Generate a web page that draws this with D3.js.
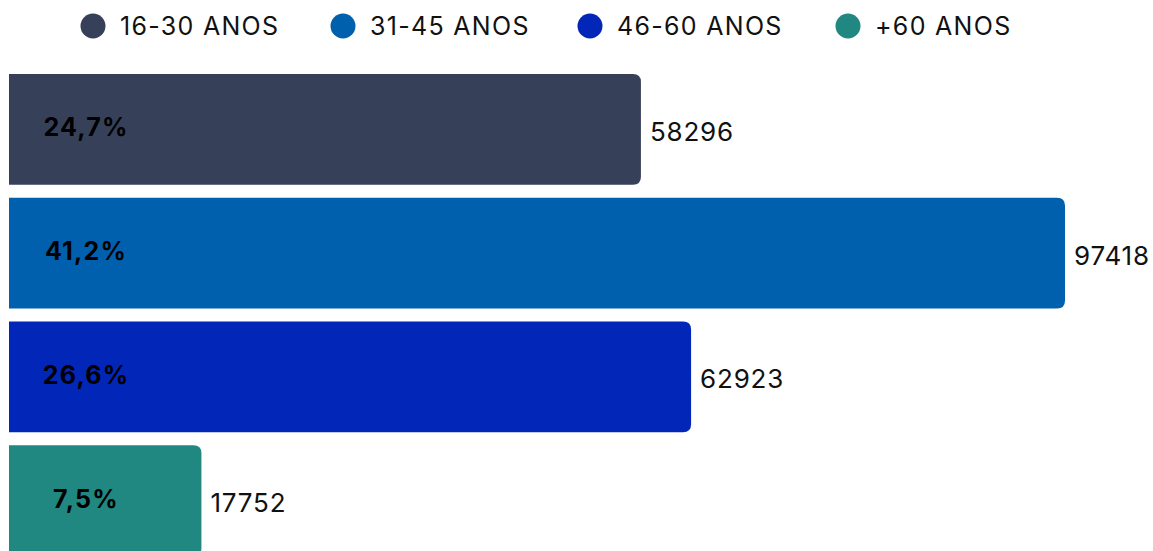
<!DOCTYPE html>
<html lang="pt">
<head>
	<meta charset="UTF-8">
	<script src="https://d3js.org/d3.v7.min.js"></script>
	<title>Faixa etaria</title>
	<style type="text/css">
		body{ margin: 0; background: #fff; }
		text{ font-family: Inter, "DejaVu Sans", sans-serif; }
	</style>
</head>
<body>
	<svg width="1153" height="551"></svg>
<script>
var categories = ["16-30 ANOS", "31-45 ANOS", "46-60 ANOS", "+60 ANOS"];
var values = [58296, 97418, 62923, 17752];
var percents = ["24,7%", "41,2%", "26,6%", "7,5%"];
var colors = ["#374059", "#0060ae", "#0227b8", "#218781"];

var svg = d3.select("svg");
var left = 9, right = 1065;

var xScale = d3.scaleLinear().domain([0, d3.max(values)]).range([left, right]);
var yScale = d3.scaleBand().domain(categories).range([74, 556]).paddingInner(0.105).paddingOuter(0);

var data = categories.map(function(c, i){
	return {cat: c, value: values[i], pct: percents[i], color: colors[i]};
});

// bars with rounded right corners only
function barPath(d){
	var x0 = xScale(0), x1 = xScale(d.value), y0 = yScale(d.cat), h = yScale.bandwidth(), r = 8;
	return "M" + x0 + "," + y0 +
		"H" + (x1 - r) + "Q" + x1 + "," + y0 + " " + x1 + "," + (y0 + r) +
		"V" + (y0 + h - r) + "Q" + x1 + "," + (y0 + h) + " " + (x1 - r) + "," + (y0 + h) +
		"H" + x0 + "Z";
}

svg.selectAll(".bar")
	.data(data)
	.enter().append("path")
	.attr("class", "bar")
	.attr("d", barPath)
	.attr("fill", function(d){ return d.color; });

svg.selectAll(".pct")
	.data(data)
	.enter().append("text")
	.attr("class", "pct")
	.attr("x", 86)
	.attr("y", function(d){ return yScale(d.cat) + yScale.bandwidth() / 2 - 2; })
	.attr("text-anchor", "middle")
	.attr("dominant-baseline", "central")
	.attr("font-size", "25px")
	.attr("font-weight", "bold")
	.attr("letter-spacing", "1.2px")
	.attr("fill", "#000")
	.text(function(d){ return d.pct; });

svg.selectAll(".val")
	.data(data)
	.enter().append("text")
	.attr("class", "val")
	.attr("x", function(d){ return xScale(d.value) + 9; })
	.attr("y", function(d){ return yScale(d.cat) + yScale.bandwidth() / 2 + 2; })
	.attr("dominant-baseline", "central")
	.attr("font-size", "26px")
	.attr("letter-spacing", "0.8px")
	.attr("fill", "#111")
	.text(function(d){ return d.value; });

// legend
var legendX = [93, 343, 590, 848];
var lg = svg.selectAll(".legend")
	.data(data)
	.enter().append("g")
	.attr("class", "legend")
	.attr("transform", function(d, i){ return "translate(" + legendX[i] + ",26)"; });

lg.append("circle").attr("r", 12.5).attr("fill", function(d){ return d.color; });
lg.append("text")
	.attr("x", 27)
	.attr("dominant-baseline", "central")
	.attr("font-size", "25px")
	.attr("letter-spacing", "1.3px")
	.attr("fill", "#111")
	.text(function(d){ return d.cat; });
</script>
</body>
</html>
